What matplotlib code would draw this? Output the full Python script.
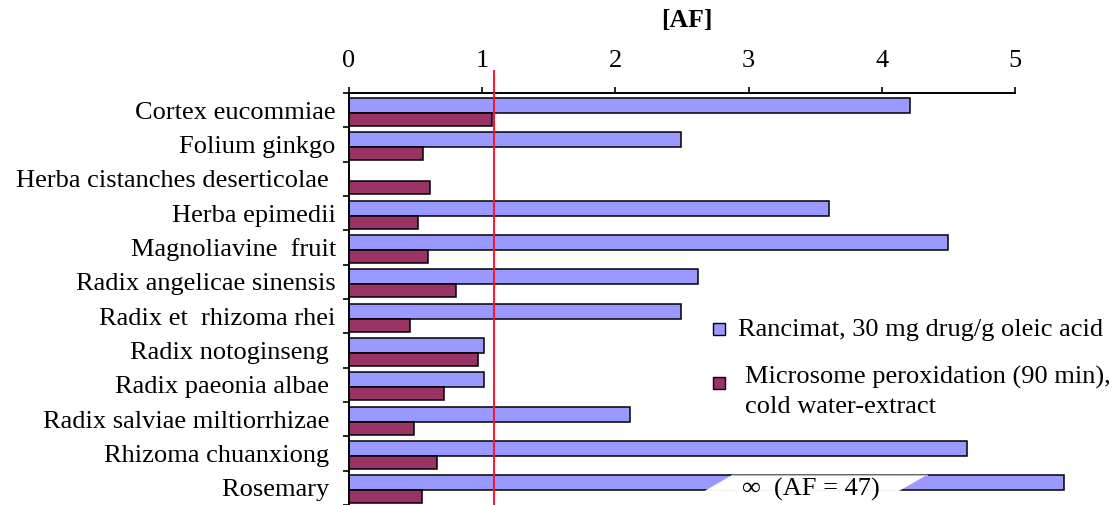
import matplotlib
matplotlib.use('Agg')
import matplotlib.pyplot as plt
from matplotlib.patches import Polygon, Rectangle
import numpy as np

# data
categories = ['Cortex eucommiae', 'Folium ginkgo', 'Herba cistanches deserticolae ',
              'Herba epimedii', 'Magnoliavine  fruit', 'Radix angelicae sinensis',
              'Radix et  rhizoma rhei', 'Radix notoginseng ', 'Radix paeonia albae ',
              'Radix salviae miltiorrhizae ', 'Rhizoma chuanxiong ', 'Rosemary ']
rancimat = [4.21, 2.49, 0.0, 3.60, 4.50, 2.62, 2.49, 1.01, 1.01, 2.11, 4.64, 5.37]
microsome = [1.07, 0.555, 0.61, 0.52, 0.59, 0.80, 0.46, 0.97, 0.71, 0.49, 0.66, 0.55]
x_ticks = [0, 1, 2, 3, 4, 5]
threshold = 1.085
rosemary_break = (2.67, 4.34)   # AF = 47 bar is cut here
rosemary_note = '\u221e  (AF = 47)'
legend_labels = ['Rancimat, 30 mg drug/g oleic acid',
                 'Microsome peroxidation (90 min),\ncold water-extract']

blue = '#9999FF'
purple = '#993366'
W, H = 1117, 505

plt.rcParams['font.family'] = ['Liberation Serif', 'DejaVu Serif']

fig = plt.figure(figsize=(W / 100, H / 100), dpi=100)
ax = fig.add_axes([349 / W, -2 / H, 732 / W, 414 / H])

y = np.arange(len(categories))
ax.barh(y - 0.145, rancimat, height=0.43, color=blue, edgecolor='black', linewidth=1.1, zorder=2)
ax.barh(y + 0.26, microsome, height=0.38, color=purple, edgecolor='black', linewidth=1.1, zorder=2)

# cut in the rosemary bar
i = len(categories) - 1
b0, b1 = rosemary_break
yt, yb = i - 0.38, i + 0.09
cut = Polygon([(b0 + 0.21, yt), (b1, yt), (b1 - 0.21, yb), (b0, yb)],
              closed=True, facecolor='white', edgecolor='none', zorder=3)
ax.add_patch(cut)
ax.plot([b0 + 0.21, b1], [yt, yt], color='#bbbbbb', lw=0.8, zorder=3)
ax.text((b0 + b1) / 2 - 0.04, i + 0.06, rosemary_note, ha='center', va='center',
        fontsize=19, zorder=4)

ax.axvline(threshold, ymin=0, ymax=1.053, color='#FF1030', lw=1.4, clip_on=False, zorder=5)

ax.set_xlim(0, 732 / 133.2)
ax.set_ylim(len(categories) - 0.5 + 2 / 34.5, -0.5)

ax.xaxis.tick_top()
ax.set_xticks(x_ticks)
ax.set_xticklabels([str(t) for t in x_ticks], fontsize=19)
ax.tick_params(axis='x', direction='out', length=4.3, width=1.2, pad=11)

ax.set_yticks(np.arange(len(categories) + 1) - 0.5)
ax.set_yticklabels([])
ax.set_yticks(y, minor=True)
ax.set_yticklabels(categories, minor=True, fontsize=19)
ax.tick_params(axis='y', which='major', direction='out', length=4.3, width=1.2)
ax.tick_params(axis='y', which='minor', length=0, pad=9.5)

for s in ['right', 'bottom']:
    ax.spines[s].set_visible(False)
ax.spines['top'].set_bounds(0, 5)
ax.spines['top'].set_linewidth(1.4)
ax.spines['left'].set_linewidth(1.4)

fig.text(687 / W, 1 - 21 / H, '[AF]', ha='center', va='center',
         fontsize=18.5, fontweight='bold')

# legend drawn by hand so the square sits on the first line
fig.patches.append(Rectangle((713 / W, 1 - 335 / H), 12 / W, 12 / H, transform=fig.transFigure,
                             facecolor=blue, edgecolor='black', lw=1.0))
fig.patches.append(Rectangle((713 / W, 1 - 389 / H), 12 / W, 12 / H, transform=fig.transFigure,
                             facecolor=purple, edgecolor='black', lw=1.0))
fig.text(738 / W, 1 - 336 / H, legend_labels[0], ha='left', va='baseline', fontsize=19)
fig.text(745 / W, 1 - 384 / H, legend_labels[1].split('\n')[0], ha='left', va='baseline', fontsize=19)
fig.text(745 / W, 1 - 413 / H, legend_labels[1].split('\n')[1], ha='left', va='baseline', fontsize=19)

fig.savefig('out.png', dpi=100, facecolor='white')
